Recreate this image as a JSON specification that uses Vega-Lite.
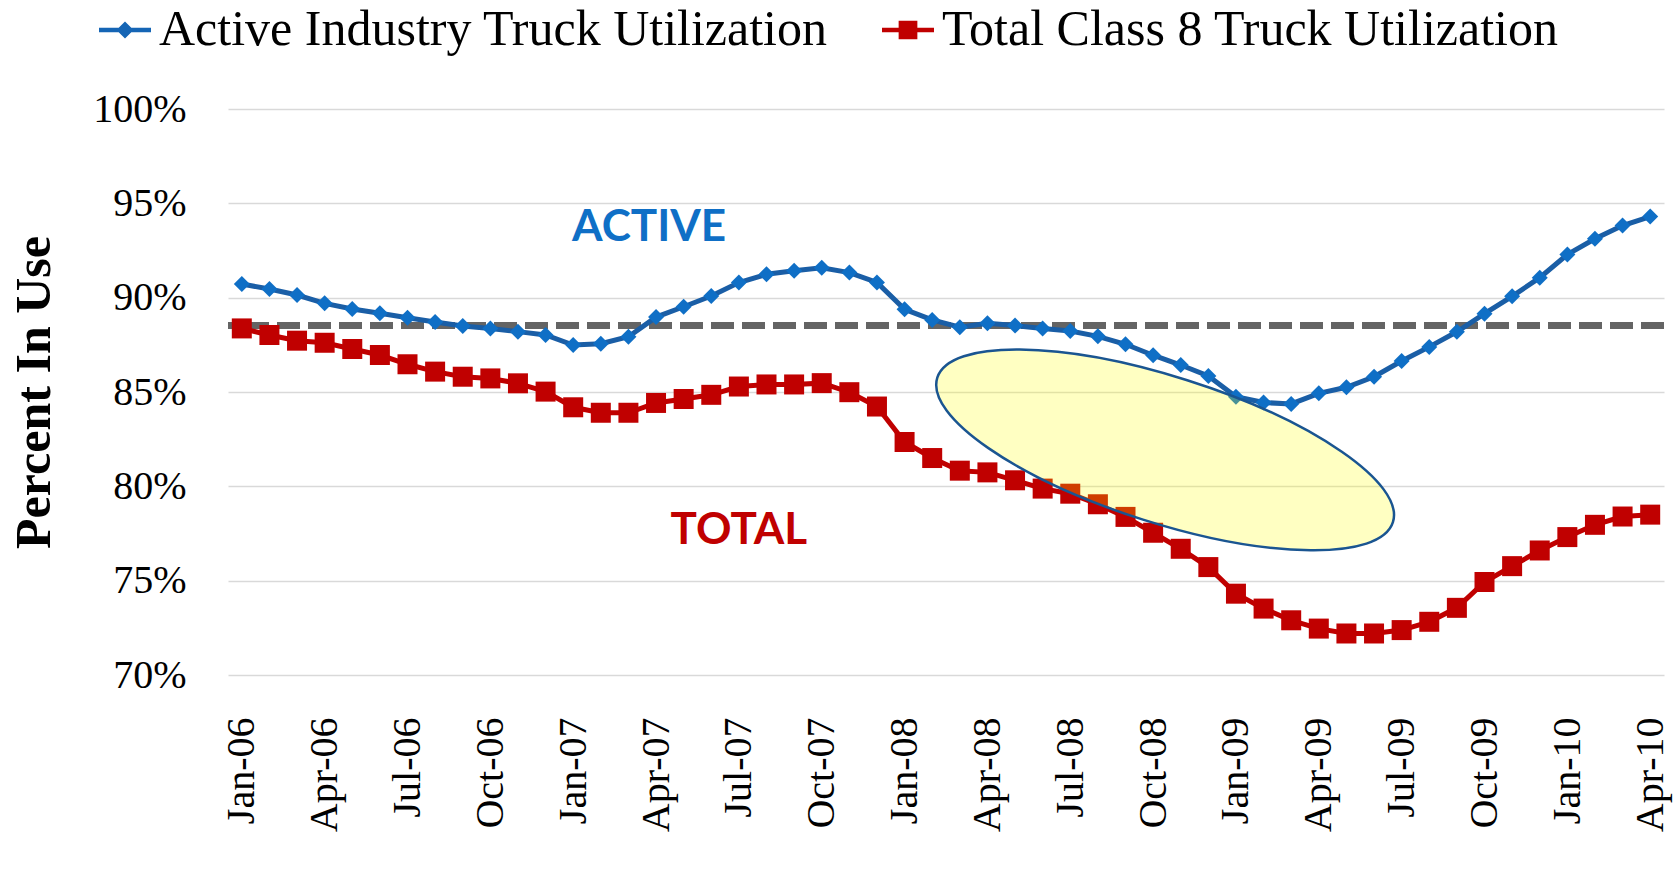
{
  "$schema": "https://vega.github.io/schema/vega-lite/v6.json",
  "width": 1436,
  "height": 566,
  "autosize": {"type": "none"},
  "padding": {"left": 228, "top": 109, "right": 11, "bottom": 197},
  "background": "white",
  "config": {
    "view": {"stroke": null},
    "axis": {"gridColor": "#D9D9D9", "gridWidth": 1.5, "domain": false, "ticks": false,
             "labelFont": "Liberation Serif", "labelFontSize": 40, "labelColor": "#000000",
             "titleFont": "Liberation Serif", "titleColor": "#000000"}
  },
  "datasets": {
    "util": [
      {"month": "Jan-06", "active": 90.72, "total": 88.37},
      {"month": "Feb-06", "active": 90.46, "total": 88.02},
      {"month": "Mar-06", "active": 90.14, "total": 87.72},
      {"month": "Apr-06", "active": 89.70, "total": 87.61},
      {"month": "May-06", "active": 89.40, "total": 87.28},
      {"month": "Jun-06", "active": 89.17, "total": 86.96},
      {"month": "Jul-06", "active": 88.94, "total": 86.47},
      {"month": "Aug-06", "active": 88.71, "total": 86.08},
      {"month": "Sep-06", "active": 88.50, "total": 85.81},
      {"month": "Oct-06", "active": 88.37, "total": 85.72},
      {"month": "Nov-06", "active": 88.20, "total": 85.46},
      {"month": "Dec-06", "active": 88.02, "total": 85.02},
      {"month": "Jan-07", "active": 87.49, "total": 84.19},
      {"month": "Feb-07", "active": 87.56, "total": 83.90},
      {"month": "Mar-07", "active": 87.93, "total": 83.90},
      {"month": "Apr-07", "active": 88.97, "total": 84.42},
      {"month": "May-07", "active": 89.52, "total": 84.63},
      {"month": "Jun-07", "active": 90.09, "total": 84.85},
      {"month": "Jul-07", "active": 90.80, "total": 85.29},
      {"month": "Aug-07", "active": 91.24, "total": 85.40},
      {"month": "Sep-07", "active": 91.43, "total": 85.40},
      {"month": "Oct-07", "active": 91.59, "total": 85.47},
      {"month": "Nov-07", "active": 91.33, "total": 84.99},
      {"month": "Dec-07", "active": 90.81, "total": 84.23},
      {"month": "Jan-08", "active": 89.38, "total": 82.35},
      {"month": "Feb-08", "active": 88.82, "total": 81.50},
      {"month": "Mar-08", "active": 88.43, "total": 80.83},
      {"month": "Apr-08", "active": 88.64, "total": 80.74},
      {"month": "May-08", "active": 88.52, "total": 80.32},
      {"month": "Jun-08", "active": 88.37, "total": 79.88},
      {"month": "Jul-08", "active": 88.23, "total": 79.61},
      {"month": "Aug-08", "active": 87.95, "total": 79.05},
      {"month": "Sep-08", "active": 87.53, "total": 78.38},
      {"month": "Oct-08", "active": 86.95, "total": 77.54},
      {"month": "Nov-08", "active": 86.43, "total": 76.69},
      {"month": "Dec-08", "active": 85.85, "total": 75.72},
      {"month": "Jan-09", "active": 84.75, "total": 74.31},
      {"month": "Feb-09", "active": 84.44, "total": 73.52},
      {"month": "Mar-09", "active": 84.37, "total": 72.90},
      {"month": "Apr-09", "active": 84.93, "total": 72.46},
      {"month": "May-09", "active": 85.25, "total": 72.20},
      {"month": "Jun-09", "active": 85.81, "total": 72.20},
      {"month": "Jul-09", "active": 86.64, "total": 72.38},
      {"month": "Aug-09", "active": 87.39, "total": 72.82},
      {"month": "Sep-09", "active": 88.19, "total": 73.56},
      {"month": "Oct-09", "active": 89.15, "total": 74.93},
      {"month": "Nov-09", "active": 90.07, "total": 75.77},
      {"month": "Dec-09", "active": 91.06, "total": 76.60},
      {"month": "Jan-10", "active": 92.29, "total": 77.31},
      {"month": "Feb-10", "active": 93.12, "total": 77.96},
      {"month": "Mar-10", "active": 93.82, "total": 78.40},
      {"month": "Apr-10", "active": 94.30, "total": 78.50}
    ]
  },
  "encoding": {
    "x": {
      "field": "month", "type": "ordinal", "sort": null,
      "scale": {"type": "point", "padding": 0.5,
        "domain": ["Jan-06","Feb-06","Mar-06","Apr-06","May-06","Jun-06","Jul-06","Aug-06","Sep-06","Oct-06","Nov-06","Dec-06",
                   "Jan-07","Feb-07","Mar-07","Apr-07","May-07","Jun-07","Jul-07","Aug-07","Sep-07","Oct-07","Nov-07","Dec-07",
                   "Jan-08","Feb-08","Mar-08","Apr-08","May-08","Jun-08","Jul-08","Aug-08","Sep-08","Oct-08","Nov-08","Dec-08",
                   "Jan-09","Feb-09","Mar-09","Apr-09","May-09","Jun-09","Jul-09","Aug-09","Sep-09","Oct-09","Nov-09","Dec-09",
                   "Jan-10","Feb-10","Mar-10","Apr-10"]},
      "axis": {"title": null, "labelAngle": -90, "labelPadding": 42, "grid": false, "labelOverlap": false,
               "values": ["Jan-06","Apr-06","Jul-06","Oct-06","Jan-07","Apr-07","Jul-07","Oct-07","Jan-08","Apr-08","Jul-08","Oct-08","Jan-09","Apr-09","Jul-09","Oct-09","Jan-10","Apr-10"]}
    }
  },
  "layer": [
    {
      "data": {"values": [{"ref": 88.53}]},
      "mark": {"type": "rule", "color": "#646464", "strokeWidth": 7, "strokeDash": [23, 8], "strokeCap": "butt"},
      "encoding": {
        "x": null,
        "y": {"field": "ref", "type": "quantitative",
              "scale": {"domain": [70, 100], "nice": false, "zero": false},
              "axis": {"title": "Percent In Use", "titleFontSize": 50, "titleFontWeight": "bold", "titlePadding": 33,
                       "values": [70, 75, 80, 85, 90, 95, 100], "labelExpr": "datum.value + '%'",
                       "labelPadding": 42, "labelFlush": false, "grid": true}}
      }
    },
    {
      "data": {"name": "util"},
      "transform": [{"fold": ["active", "total"], "as": ["key", "value"]}],
      "mark": {"type": "line", "strokeWidth": 5},
      "encoding": {
        "y": {"field": "value", "type": "quantitative"},
        "color": {
          "field": "key", "type": "nominal",
          "scale": {"domain": ["active", "total"], "range": ["#1A5EA6", "#C00000"]},
          "legend": {
            "orient": "none", "legendX": -129, "legendY": -105, "direction": "horizontal", "title": null,
            "labelFont": "Liberation Serif", "labelFontSize": 50, "labelColor": "#000000", "labelLimit": 0,
            "labelOffset": 8, "columnPadding": 54, "symbolSize": 2704,
            "labelExpr": "datum.label == 'active' ? 'Active Industry Truck Utilization' : 'Total Class 8 Truck Utilization'",
            "encode": {"symbols": {"update": {
              "shape": {"signal": "datum.value == 'active' ? 'M-1,-0.09L1,-0.09L1,0.09L-1,0.09Z M0,-0.33L0.33,0L0,0.33L-0.33,0Z' : 'M-1,-0.09L1,-0.09L1,0.09L-1,0.09Z M-0.36,-0.36L0.36,-0.36L0.36,0.36L-0.36,0.36Z'"},
              "fill": {"signal": "datum.value == 'active' ? '#1565B5' : '#C00000'"},
              "fillOpacity": {"value": 1},
              "opacity": {"value": 1},
              "strokeWidth": {"value": 0}
            }}}
          }
        }
      }
    },
    {
      "data": {"name": "util"},
      "transform": [{"fold": ["active"], "as": ["key", "value"]}],
      "mark": {"type": "point", "shape": "diamond", "size": 256, "filled": true, "fill": "#0F6FC6", "opacity": 1, "strokeWidth": 0},
      "encoding": {"y": {"field": "value", "type": "quantitative"}}
    },
    {
      "data": {"name": "util"},
      "transform": [{"fold": ["total"], "as": ["key", "value"]}],
      "mark": {"type": "point", "shape": "square", "size": 400, "filled": true, "fill": "#C00000", "opacity": 1, "strokeWidth": 0},
      "encoding": {"y": {"field": "value", "type": "quantitative"}}
    },
    {
      "data": {"values": [{"month": "Apr-07", "value": 93.69, "label": "ACTIVE"}]},
      "mark": {"type": "text", "font": "Lato", "fontWeight": "bold", "fontSize": 44, "color": "#0F6FC6", "xOffset": -7, "baseline": "middle", "align": "center"},
      "encoding": {"y": {"field": "value", "type": "quantitative"}, "text": {"field": "label"}}
    },
    {
      "data": {"values": [{"month": "Jul-07", "value": 77.61, "label": "TOTAL"}]},
      "mark": {"type": "text", "font": "Lato", "fontWeight": "bold", "fontSize": 44, "color": "#C00000", "baseline": "middle", "align": "center"},
      "encoding": {"y": {"field": "value", "type": "quantitative"}, "text": {"field": "label"}}
    },
    {
      "data": {"values": [{"month": "Oct-08", "value": 81.93}]},
      "mark": {"type": "point", "shape": "M-1,0C-1,-0.169,-0.552,-0.306,0,-0.306C0.552,-0.306,1,-0.169,1,0C1,0.169,0.552,0.306,0,0.306C-0.552,0.306,-1,0.169,-1,0Z",
               "size": 228484, "angle": 17.6, "filled": true, "fill": "#FFFF00", "fillOpacity": 0.24,
               "stroke": "#1A5591", "strokeWidth": 2.5, "strokeOpacity": 1, "opacity": 1, "xOffset": 12},
      "encoding": {"y": {"field": "value", "type": "quantitative"}}
    }
  ]
}
